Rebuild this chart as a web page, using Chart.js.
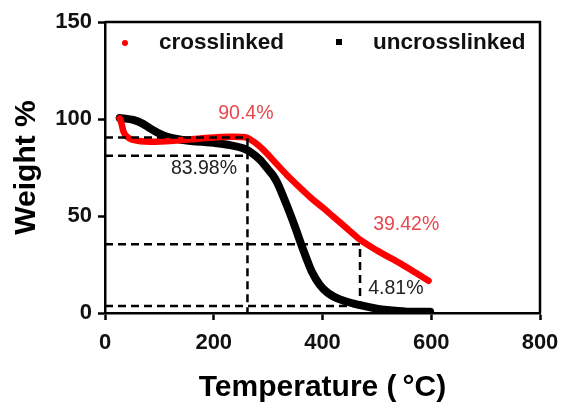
<!doctype html>
<meta charset="utf-8">
<title>TGA crosslinked vs uncrosslinked</title>
<style>
    body { margin: 0; background: #fff; }
    #wrap { width: 561px; height: 403px; }
</style>
<body>
    <div id="wrap"><canvas id="tga" width="561" height="403"></canvas></div>
    <script src="https://cdn.jsdelivr.net/npm/chart.js@4.4.1/dist/chart.umd.min.js"></script>
    <script>
        // temperature (°C) / weight (%)
        const crossT = [27, 30, 34, 42, 52, 83, 126, 175, 236, 258, 268, 282, 297, 315, 335, 359, 380, 401, 420, 445, 469, 500, 543, 570, 595];
        const crossW = [100.4, 98, 93.5, 90.5, 89.2, 88.3, 88.8, 90, 90.9, 90.6, 89.3, 86.5, 82.5, 77, 71, 64.5, 59, 54.2, 49.6, 43.6, 37.8, 32.3, 25.6, 21, 16.6];

        const uncrossT = [27, 35, 52, 70, 83, 100, 113, 144, 205, 230, 254, 270, 285, 300, 310, 318, 330, 340, 350, 360, 370, 380, 395, 410, 432, 469, 500, 518, 555, 598];
        const uncrossW = [100.5, 100.3, 99.5, 97.5, 95.2, 92.5, 90.9, 89.2, 87.5, 86.5, 84.9, 82.5, 79, 74, 70.5, 66.5, 58.5, 51.5, 44, 36, 28.5, 21.5, 14.5, 10.3, 7, 4, 2.2, 1.5, 0.7, 0.6];

        // dashed guide lines: [x, y] corner points
        const guideA = [[0, 90.4], [262, 90.4], [262, 0]];
        const guideB = [[0, 81], [262, 81]];
        const guideC = [[0, 35.5], [469, 35.5], [469, 0]];
        const guideD = [[0, 3.6], [469, 3.6]];

        const notes = [
            { text: "90.4%", x: 259, y: 102.8, color: "#e8474d" },
            { text: "83.98%", x: 182, y: 74.2, color: "#222" },
            { text: "39.42%", x: 554, y: 45.4, color: "#e8474d" },
            { text: "4.81%", x: 535, y: 12.4, color: "#222" },
        ];

        const xTicks = [0, 200, 400, 600, 800];
        const yTicks = [0, 50, 100, 150];

        const FONT = "'Liberation Sans', Arial, sans-serif";

        const toPoints = (xs, ys) => xs.map((x, i) => ({ x: x, y: ys[i] }));
        const toPairs = (pairs) => pairs.map(p => ({ x: p[0], y: p[1] }));

        const dashed = (pairs) => ({
            data: toPairs(pairs),
            borderColor: "#000",
            borderWidth: 2.5,
            borderDash: [8, 5],
            pointRadius: 0,
            tension: 0,
            order: 0,
        });

        const notesPlugin = {
            id: "notes",
            afterDatasetsDraw(chart) {
                const { ctx, scales } = chart;
                ctx.save();
                ctx.font = "19.5px " + FONT;
                ctx.textAlign = "center";
                ctx.textBaseline = "middle";
                for (const n of notes) {
                    ctx.fillStyle = n.color;
                    ctx.fillText(n.text, scales.x.getPixelForValue(n.x), scales.y.getPixelForValue(n.y));
                }
                ctx.restore();
            },
        };

        // box on top/right + the legend inside the plot
        const framePlugin = {
            id: "frame",
            afterDraw(chart) {
                const { ctx, chartArea: a } = chart;
                ctx.save();
                ctx.strokeStyle = "#000";
                ctx.lineWidth = 2.5;
                ctx.beginPath();
                ctx.moveTo(a.left, a.top);
                ctx.lineTo(a.right, a.top);
                ctx.lineTo(a.right, a.bottom);
                ctx.stroke();

                ctx.fillStyle = "#ff0000";
                ctx.beginPath();
                ctx.arc(a.left + 20, a.top + 21, 3, 0, Math.PI * 2);
                ctx.fill();
                ctx.fillStyle = "#000";
                ctx.fillRect(a.left + 231, a.top + 17, 6, 6);

                ctx.font = "bold 22.5px " + FONT;
                ctx.textBaseline = "alphabetic";
                ctx.fillStyle = "#111";
                ctx.fillText("crosslinked", a.left + 54, a.top + 27);
                ctx.fillText("uncrosslinked", a.left + 268, a.top + 27);
                ctx.restore();
            },
        };

        new Chart(document.getElementById("tga"), {
            type: "line",
            data: {
                datasets: [
                    dashed(guideA),
                    dashed(guideB),
                    dashed(guideC),
                    dashed(guideD),
                    {
                        label: "crosslinked",
                        data: toPoints(crossT, crossW),
                        borderColor: "#ff0000",
                        borderWidth: 6.5,
                        borderCapStyle: "round",
                        pointRadius: 0,
                        cubicInterpolationMode: "monotone",
                        order: 1,
                    },
                    {
                        label: "uncrosslinked",
                        data: toPoints(uncrossT, uncrossW),
                        borderColor: "#000",
                        borderWidth: 8,
                        borderCapStyle: "round",
                        pointRadius: 0,
                        cubicInterpolationMode: "monotone",
                        order: 2,
                    },
                ],
            },
            options: {
                responsive: false,
                animation: false,
                layout: { padding: { top: 22, right: 21, left: 0, bottom: 0 } },
                plugins: {
                    legend: { display: false },
                    tooltip: { enabled: false },
                },
                scales: {
                    x: {
                        type: "linear",
                        min: 0,
                        max: 800,
                        afterFit: (s) => { s.height = 90; s.paddingLeft = 0; s.paddingRight = 0; },
                        afterBuildTicks: (s) => { s.ticks = xTicks.map(v => ({ value: v })); },
                        border: { display: true, color: "#000", width: 2.5 },
                        grid: { drawOnChartArea: false, drawTicks: true, tickLength: 7, tickWidth: 2.5, tickColor: "#000" },
                        ticks: { color: "#111", padding: 10, font: { family: FONT, size: 22, weight: "bold" } },
                        title: {
                            display: true,
                            text: "Temperature (\u2009°C)",
                            color: "#000",
                            padding: { top: 0, bottom: 0 },
                            font: { family: FONT, size: 30, weight: "bold", lineHeight: 1 },
                        },
                    },
                    y: {
                        min: 0,
                        max: 150,
                        afterFit: (s) => { s.width = 105; s.paddingTop = 0; s.paddingBottom = 0; },
                        afterBuildTicks: (s) => { s.ticks = yTicks.map(v => ({ value: v })); },
                        border: { display: true, color: "#000", width: 2.5 },
                        grid: { drawOnChartArea: false, drawTicks: true, tickLength: 7, tickWidth: 2.5, tickColor: "#000" },
                        ticks: { color: "#111", padding: 6, font: { family: FONT, size: 22, weight: "bold" } },
                        title: {
                            display: true,
                            text: "Weight %",
                            color: "#000",
                            padding: { top: 12, bottom: 0 },
                            font: { family: FONT, size: 30, weight: "bold", lineHeight: 1 },
                        },
                    },
                },
            },
            plugins: [notesPlugin, framePlugin],
        });
    </script>
</body>
